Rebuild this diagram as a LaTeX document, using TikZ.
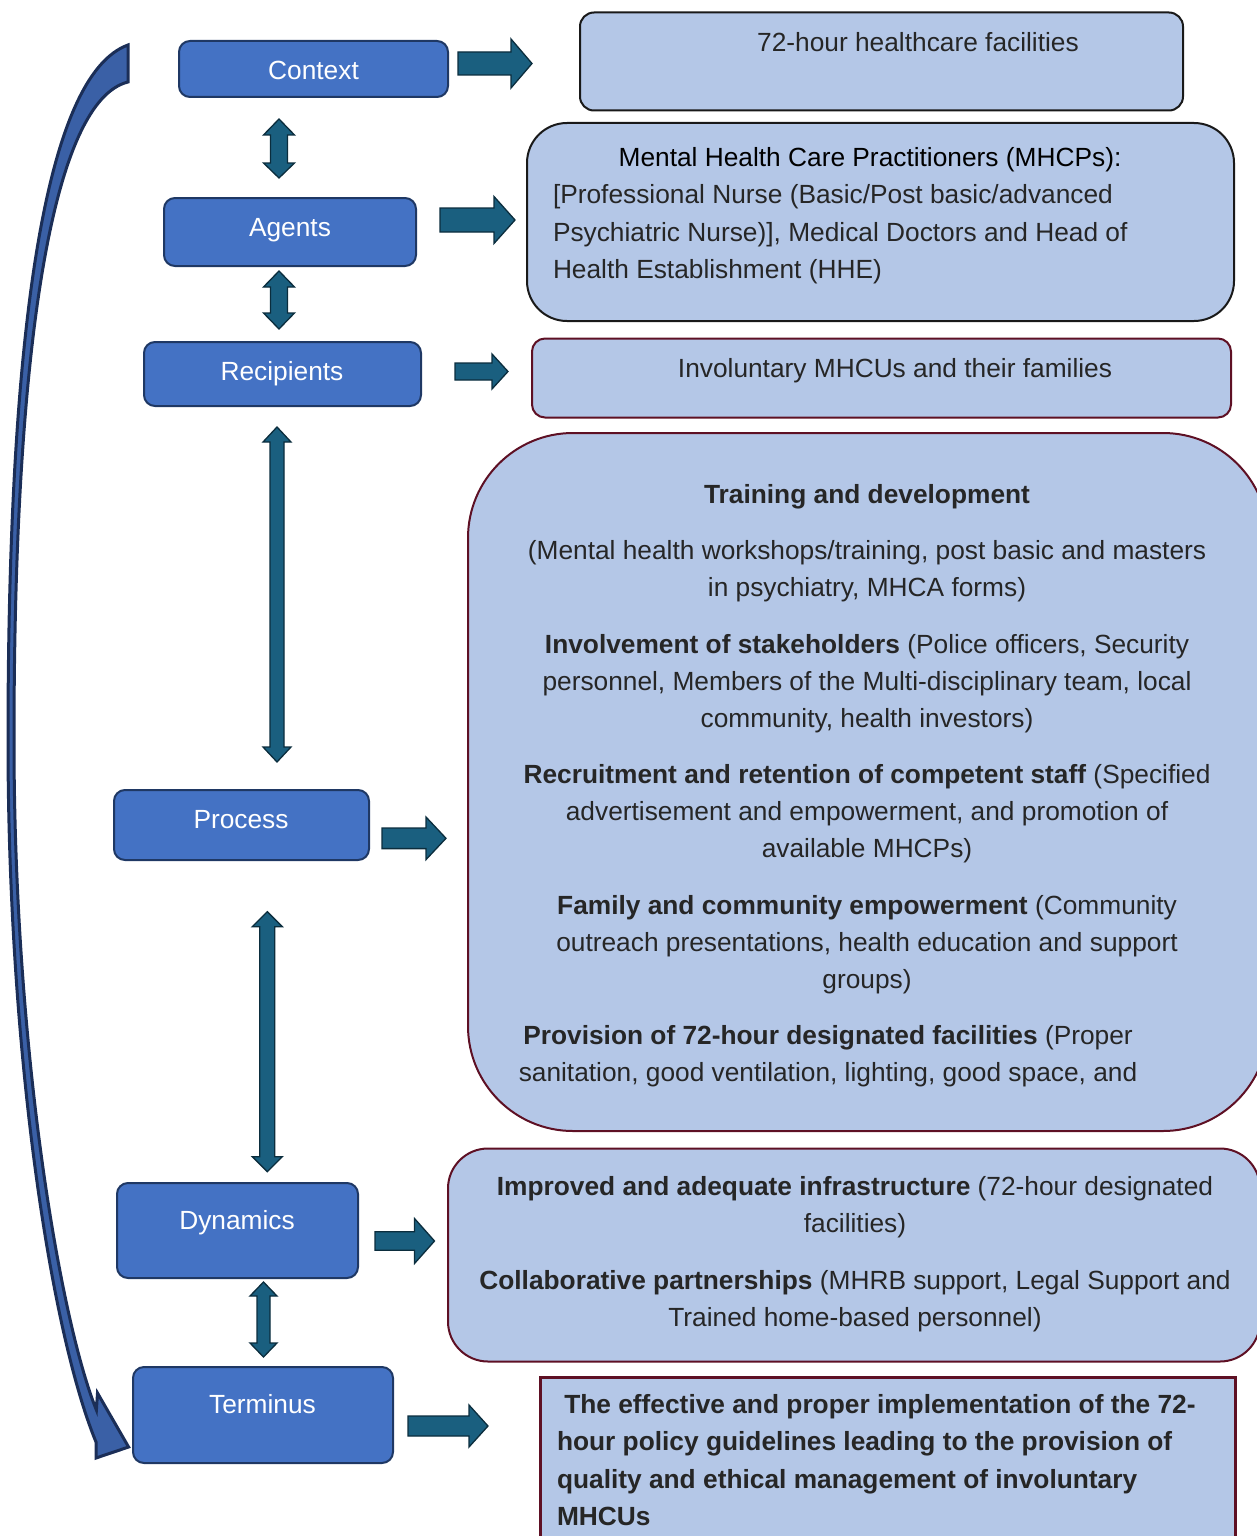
\documentclass[tikz,border=0pt]{standalone}
\usepackage{fontspec}
\setmainfont{Liberation Sans}
\definecolor{leftblue}{HTML}{4472C4}
\definecolor{navy}{HTML}{1F3864}
\definecolor{lightblue}{HTML}{B4C7E7}
\definecolor{maroon}{HTML}{5E1024}
\definecolor{teal}{HTML}{1A5F7F}
\definecolor{tealdark}{HTML}{0B2D3D}
\definecolor{curvfill}{HTML}{3A60A6}
\definecolor{curvdraw}{HTML}{1B2E57}
\definecolor{textgray}{HTML}{262626}
\tikzset{
  txt/.style={font=\fontsize{26.3}{31}\selectfont, text=textgray, inner sep=0pt, outer sep=0pt},
  wtxt/.style={font=\fontsize{26.3}{31}\selectfont, text=white, inner sep=0pt, outer sep=0pt, anchor=base},
  leftbox/.style={draw=navy, fill=leftblue, line width=2pt, rounded corners=11pt, anchor=north west, inner sep=0pt, outer sep=0pt},
  rightbox/.style={fill=lightblue, line width=2pt, anchor=north west, inner sep=0pt, outer sep=0pt},
  tealarrow/.style={fill=teal, draw=tealdark, line width=1.3pt, line join=miter},
  curvarrow/.style={fill=curvfill, draw=curvdraw, line width=3pt, line join=miter}
}
\newcommand\ctl[4]{\node[txt,anchor=base] (#1) at (#2,#3) {#4};}
\newcommand\ltl[4]{\node[txt,anchor=base west] (#1) at (#2,#3) {#4};}
% right block arrow: tail x, head x, tip x, centre y, half shaft, half head
\newcommand\RArr[6]{\draw[tealarrow] (#1,#4-#5) -- (#2,#4-#5) -- (#2,#4-#6) -- (#3,#4) -- (#2,#4+#6) -- (#2,#4+#5) -- (#1,#4+#5) -- cycle;}
% vertical double arrow: xc, top, head base 1, head base 2, bottom, half shaft, half head
\newcommand\VArr[7]{\draw[tealarrow] (#1,#2) -- (#1+#7,#3) -- (#1+#6,#3) -- (#1+#6,#4) -- (#1+#7,#4) -- (#1,#5) -- (#1-#7,#4) -- (#1-#6,#4) -- (#1-#6,#3) -- (#1-#7,#3) -- cycle;}
\begin{document}
\begin{tikzpicture}[x=1pt,y=-1pt]
\useasboundingbox (0,0) rectangle (1257,1536);
\clip (0,0) rectangle (1257,1536);

% curved arrow on the left
\filldraw[curvarrow] (128,45) .. controls (45,75) and (8,330) .. (8,740)
  .. controls (8,1050) and (50,1330) .. (96,1442) -- (96,1458) -- (128.6,1447)
  -- (97.5,1393) -- (96.4,1410)
  .. controls (60,1320) and (14,1050) .. (14,740)
  .. controls (14,330) and (55,100) .. (128,82) -- cycle;

% left boxes
\node[leftbox, minimum width=269pt, minimum height=56pt] (context) at (179,41) {};
\node[leftbox, minimum width=252pt, minimum height=68pt] (agents) at (164,198) {};
\node[leftbox, minimum width=277pt, minimum height=64pt] (recipients) at (144,342) {};
\node[leftbox, minimum width=255pt, minimum height=70pt] (process) at (114,790) {};
\node[leftbox, minimum width=241pt, minimum height=95pt] (dynamics) at (117,1183) {};
\node[leftbox, minimum width=260pt, minimum height=96pt] (terminus) at (133,1367) {};
\node[wtxt] (contextT) at (313.5,80) {Context};
\node[wtxt] (agentsT) at (290,236.5) {Agents};
\node[wtxt] (recipientsT) at (282,380) {Recipients};
\node[wtxt] (processT) at (241,828.5) {Process};
\node[wtxt] (dynamicsT) at (237,1229) {Dynamics};
\node[wtxt] (terminusT) at (262.5,1413) {Terminus};

% right boxes
\node[rightbox, draw=black!90, rounded corners=14pt, minimum width=603pt, minimum height=98pt] (ctxbox) at (580,12.5) {};
\node[rightbox, draw=black!90, rounded corners=40pt, minimum width=707pt, minimum height=198pt] (agbox) at (527,123) {};
\node[rightbox, draw=maroon, rounded corners=13pt, minimum width=699pt, minimum height=79pt] (recbox) at (532,338.5) {};
\node[rightbox, draw=maroon, rounded corners=105pt, minimum width=800pt, minimum height=698pt] (procbox) at (468,433) {};
\node[rightbox, draw=maroon, rounded corners=40pt, minimum width=812pt, minimum height=213pt] (dynbox) at (448,1148.5) {};
\node[rightbox, draw=maroon, line width=3pt, minimum width=695pt, minimum height=200pt] (termbox) at (540,1377) {};

% right arrows
\RArr{458}{511}{532}{63.5}{11.5}{24.5}
\RArr{440}{494}{515}{220}{12}{23.5}
\RArr{455}{492}{508}{371.5}{8.5}{17.5}
\RArr{382}{426}{446}{838.3}{10.3}{21.3}
\RArr{375}{414.5}{434.5}{1241}{9.2}{22.5}
\RArr{408}{469}{488}{1426}{10}{21}

% vertical double arrows
\VArr{279}{119}{135}{163}{178}{8.5}{15.5}
\VArr{279}{271}{287}{313}{329}{8.5}{15.5}
\VArr{277}{427}{442}{747}{762}{7}{14}
\VArr{267.3}{911.7}{926.7}{1156.7}{1171.7}{7.5}{15}
\VArr{263.5}{1282}{1296}{1343}{1357}{6.5}{13.5}

% texts in right boxes
\ctl{t1}{918}{52}{72-hour healthcare facilities}
\ctl{t2}{870}{166}{\color{black}Mental Health Care Practitioners (MHCPs):}
\ltl{t3}{553}{203.5}{[Professional Nurse (Basic/Post basic/advanced}
\ltl{t4}{553}{241}{Psychiatric Nurse)], Medical Doctors and Head of}
\ltl{t5}{553}{278}{Health Establishment (HHE)}
\ctl{t6}{895}{377}{Involuntary MHCUs and their families}

\ctl{p1}{867}{503}{\textbf{Training and development}}
\ctl{p2}{867}{559}{(Mental health workshops/training, post basic and masters}
\ctl{p3}{867}{596}{in psychiatry, MHCA forms)}
\ctl{p4}{867}{653}{\textbf{Involvement of stakeholders} (Police officers, Security}
\ctl{p5}{867}{690}{personnel, Members of the Multi-disciplinary team, local}
\ctl{p6}{867}{727}{community, health investors)}
\ctl{p7}{867}{783}{\textbf{Recruitment and retention of competent staff} (Specified}
\ctl{p8}{867}{820}{advertisement and empowerment, and promotion of}
\ctl{p9}{867}{857}{available MHCPs)}
\ctl{p10}{867}{914}{\textbf{Family and community empowerment} (Community}
\ctl{p11}{867}{951}{outreach presentations, health education and support}
\ctl{p12}{867}{988}{groups)}
\ctl{p13}{828}{1044}{\textbf{Provision of 72-hour designated facilities} (Proper}
\ctl{p14}{828}{1081}{sanitation, good ventilation, lighting, good space, and}

\ctl{d1}{855}{1195}{\textbf{Improved and adequate infrastructure} (72-hour designated}
\ctl{d2}{855}{1232}{facilities)}
\ctl{d3}{855}{1289}{\textbf{Collaborative partnerships} (MHRB support, Legal Support and}
\ctl{d4}{855}{1326}{Trained home-based personnel)}

\ltl{e1}{557}{1413}{\textbf{\ The effective and proper implementation of the 72-}}
\ltl{e2}{557}{1450}{\textbf{hour policy guidelines leading to the provision of}}
\ltl{e3}{557}{1488}{\textbf{quality and ethical management of involuntary}}
\ltl{e4}{557}{1525}{\textbf{MHCUs}}
\end{tikzpicture}
\end{document}
